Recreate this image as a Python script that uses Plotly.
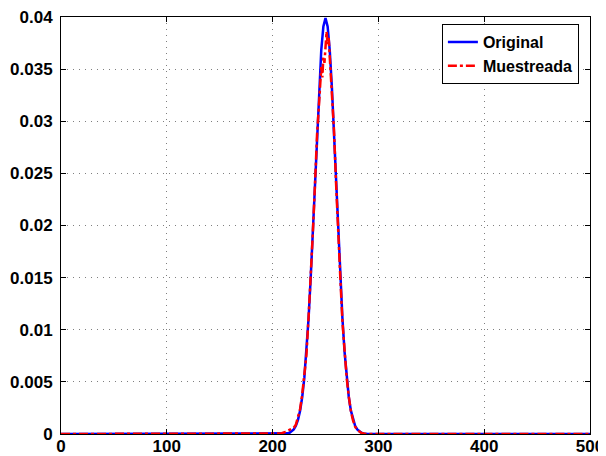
import plotly.graph_objects as go

# Original (continuous) curve samples
orig_x = [0, 200, 210, 214, 216, 218, 220, 222, 224, 226, 228, 230, 232, 234, 236, 238, 240,
          242, 244, 246, 248, 250, 252, 254, 256, 258, 260, 262, 264, 266, 268, 270,
          272, 274, 276, 278, 280, 282, 284, 286, 290, 300, 500]
orig_y = [0, 0, 0.00001, 0.00006, 0.00012, 0.00024, 0.00044, 0.00079, 0.00136, 0.00224,
          0.00355, 0.00540, 0.00790, 0.01109, 0.01497, 0.01942, 0.02420, 0.02897, 0.03333,
          0.03683, 0.03910, 0.03989, 0.03910, 0.03683, 0.03333, 0.02897, 0.02420, 0.01942,
          0.01497, 0.01109, 0.00790, 0.00540, 0.00355, 0.00224, 0.00136, 0.00079, 0.00044,
          0.00024, 0.00012, 0.00006, 0.00001, 0, 0]

# Sampled (muestreada) curve
samp_x = [0, 200, 204, 208, 212, 216, 220, 222, 224, 226, 228, 230, 232, 234, 236, 238, 240,
          242, 244, 246, 247, 248, 249, 250, 251, 252, 253, 254, 256, 258, 260, 262, 264,
          266, 268, 270, 272, 274, 276, 278, 280, 284, 288, 500]
samp_y = [0, 0, 0, 0.00005, 0.0002, 0.0004, 0.0006, 0.0009, 0.0016, 0.0024, 0.0038, 0.0056,
          0.0076, 0.0112, 0.0148, 0.0192, 0.0238, 0.0287, 0.0318, 0.0352, 0.0342, 0.0362,
          0.0356, 0.0372, 0.0386, 0.0374, 0.0380, 0.0362, 0.0330, 0.0292, 0.0240, 0.0190,
          0.0150, 0.0108, 0.0080, 0.0054, 0.0036, 0.0022, 0.0013, 0.0007, 0.0004, 0.0001,
          0, 0]

x_ticks = [0, 100, 200, 300, 400, 500]
y_ticks = [0, 0.005, 0.01, 0.015, 0.02, 0.025, 0.03, 0.035, 0.04]
y_tick_text = ["0", "0.005", "0.01", "0.015", "0.02", "0.025", "0.03", "0.035", "0.04"]
series_names = ["Original", "Muestreada"]

FONT = "Liberation Sans, Arial, sans-serif"

fig = go.Figure()
fig.add_trace(go.Scatter(x=orig_x, y=orig_y, mode="lines", name=series_names[0],
                         line=dict(color="#0000ff", width=2.5)))
fig.add_trace(go.Scatter(x=samp_x, y=samp_y, mode="lines", name=series_names[1],
                         line=dict(color="#ff0000", width=2.5, dash="dashdot")))

axis_common = dict(
    showline=True, linecolor="black", linewidth=1, mirror="ticks",
    ticks="inside", ticklen=5, tickcolor="black",
    showgrid=True, gridcolor="rgba(0,0,0,0.5)", griddash="1px,5px", gridwidth=1,
    zeroline=False, automargin=False, ticklabeloverflow="allow",
    tickfont=dict(family=FONT, size=17, color="black", weight="bold"),
)

# page body has an 8px margin, so the figure is sized to fit the 606x456 window
fig.update_layout(
    width=598, height=448,
    margin=dict(l=53, r=16, t=9, b=22),
    paper_bgcolor="white", plot_bgcolor="white",
    showlegend=True,
    legend=dict(
        x=0.979, y=0.983, xanchor="right", yanchor="top",
        bgcolor="white", bordercolor="black", borderwidth=1,
        font=dict(family=FONT, size=16, color="black", weight="bold"),
        tracegroupgap=0,
    ),
    xaxis=dict(range=[0, 500], tickvals=x_ticks, ticktext=[str(v) for v in x_ticks],
               ticklabelstandoff=-3, **axis_common),
    yaxis=dict(range=[0, 0.04], tickvals=y_ticks, ticktext=y_tick_text,
               ticklabelstandoff=4, **axis_common),
)

fig.write_html("out.html")
